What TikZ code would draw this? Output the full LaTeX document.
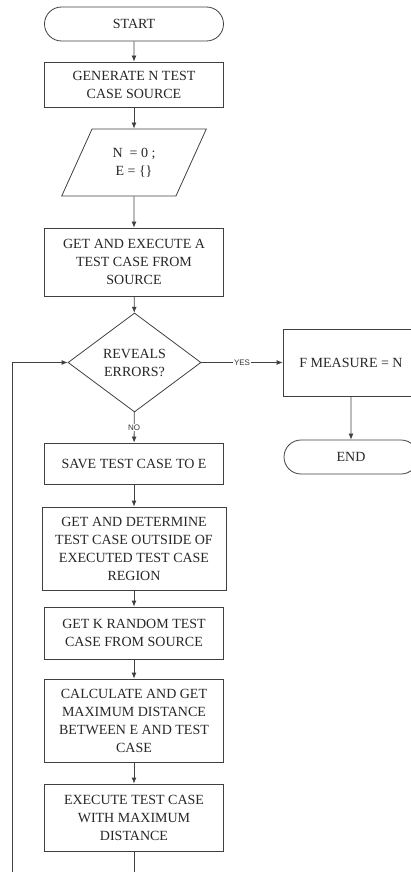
\documentclass[tikz,border=0pt]{standalone}
\usepackage{fontspec}
\setmainfont{Liberation Serif}
\newfontfamily\tagfont{Liberation Sans}
\usetikzlibrary{shapes.geometric,shapes.misc,arrows.meta}
\colorlet{linec}{black!75}
\tikzset{
  process/.style = {
    draw=linec, rectangle, minimum width=179pt, align=center,
    inner sep=0pt, text=black!85, font=\fontsize{14}{18}\selectfont
  },
  terminal/.style = {process, rounded rectangle, minimum height=34pt},
  io/.style = {
    process, trapezium, trapezium left angle=62, trapezium right angle=118,
    trapezium stretches=true, minimum width=145pt, minimum height=67pt
  },
  decision/.style = {process, diamond, minimum width=133pt, minimum height=99pt},
  tag/.style = {fill=white, inner sep=1pt, text=black!80,
    font=\tagfont\fontsize{8}{9}\selectfont}
}
\tikzset{>={Latex[length=6pt,width=5pt]}}

\begin{document}
\begin{tikzpicture}[x=1pt,y=-1pt,line width=0.8pt,draw=linec]
  \useasboundingbox (0,0) rectangle (411,872);
  \clip (0,0) rectangle (411,872);
  \node[terminal] (start) at (134,24) {START};
  \node[process,minimum height=45pt] (gen) at (134,84.5) {GENERATE N TEST\\CASE SOURCE};
  \node[io] (init) at (134,162.5) {N\ \ = 0 ;\\E = \{\}};
  \node[process,minimum height=68pt] (fetch) at (134,262) {GET AND EXECUTE A\\TEST CASE FROM\\SOURCE};
  \node[decision] (check) at (134.5,362.5) {REVEALS\\ERRORS?};
  \node[process,minimum width=136pt,minimum height=67pt] (fmeas) at (351,362.5) {F MEASURE = N};
  \node[terminal,minimum width=134pt] (stop) at (351,457) {END};
  \node[process,minimum height=41pt] (save) at (134,463.5) {SAVE TEST CASE TO E};
  \node[process,minimum width=184pt,minimum height=83pt] (outside) at (134,548.5) {GET AND DETERMINE\\TEST CASE OUTSIDE OF\\EXECUTED TEST CASE\\REGION};
  \node[process,minimum height=52pt] (krand) at (134,633) {GET K RANDOM TEST\\CASE FROM SOURCE};
  \node[process,minimum height=83pt] (calc) at (134,720.5) {CALCULATE AND GET\\MAXIMUM DISTANCE\\BETWEEN E AND TEST\\CASE};
  \node[process,minimum height=67pt] (runmax) at (134,817.5) {EXECUTE TEST CASE\\WITH MAXIMUM\\DISTANCE};
  \coordinate (loopend) at (12,900);
  \draw[->] (start) -- (gen);
  \draw[->] (gen) -- (init);
  \draw[->] (init) -- (fetch);
  \draw[->] (fetch) -- (check);
  \draw[->] (check) -- node[tag]{YES} (fmeas);
  \draw[->] (fmeas) -- (stop);
  \draw[->] (check) -- node[tag]{NO} (save);
  \draw[->] (save) -- (outside);
  \draw[->] (outside) -- (krand);
  \draw[->] (krand) -- (calc);
  \draw[->] (calc) -- (runmax);
  \draw[->] (runmax.south) |- (loopend) |- (check.west);
\end{tikzpicture}
\end{document}
